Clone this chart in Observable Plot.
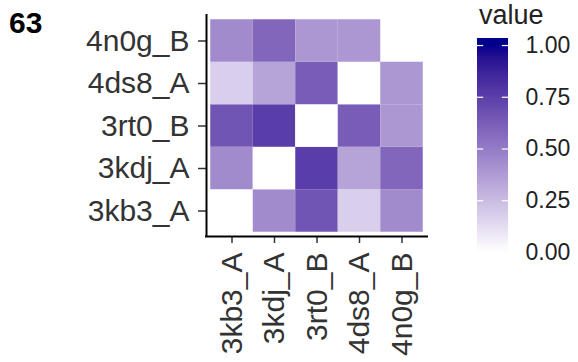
<!DOCTYPE html>
<html>
<head>
<meta charset="utf-8">
<script src="https://cdn.jsdelivr.net/npm/d3@7"></script>
<script src="https://cdn.jsdelivr.net/npm/@observablehq/plot@0.6"></script>
<style>
  html, body { margin: 0; padding: 0; background: #fff; }
  #chart { position: relative; width: 578px; height: 362px; overflow: hidden; font-family: "Liberation Sans", Arial, Helvetica, sans-serif; }
  #chart svg { position: absolute; left: 0; top: 0; }
  .tag { position: absolute; left: 9px; top: 8px; font-size: 30px; line-height: 30px; font-weight: bold; color: #000; }
  .ltitle { position: absolute; left: 479px; top: 2.4px; font-size: 27px; line-height: 27px; color: #222; }
</style>
</head>
<body>
<div id="chart">
  <div class="tag">63</div>
  <div class="ltitle">value</div>
</div>
<script>
// Categories (bottom-to-top for y, left-to-right for x)
const rowLabels = ["3kb3_A", "3kdj_A", "3rt0_B", "4ds8_A", "4n0g_B"];
const colLabels = ["3kb3_A", "3kdj_A", "3rt0_B", "4ds8_A", "4n0g_B"];

// Values per row, one entry per column (null = no tile)
const row_3kb3_A = [0.00, 0.44, 0.66, 0.18, 0.44];
const row_3kdj_A = [0.44, 0.00, 0.76, 0.345, 0.59];
const row_3rt0_B = [0.66, 0.76, 0.00, 0.63, 0.39];
const row_4ds8_A = [0.18, 0.345, 0.63, 0.00, 0.39];
const row_4n0g_B = [0.44, 0.59, 0.39, 0.39, null];
const rowValues = [row_3kb3_A, row_3kdj_A, row_3rt0_B, row_4ds8_A, row_4n0g_B];

// Legend tick labels
const legendBreaks = [0, 0.25, 0.5, 0.75, 1];

const cells = [];
rowValues.forEach((vals, ri) => {
  vals.forEach((v, ci) => {
    if (v != null) cells.push({row: rowLabels[ri], col: colLabels[ci], ri: ri + 1, ci: ci + 1, value: v});
  });
});

const xDomain = [0.4, 5.6];
const yDomain = [0.4, 5.6];
const colorScale = {type: "linear", domain: [0, 1], range: ["white", "darkblue"], interpolate: "lab"};
const font = '"Liberation Sans", Arial, Helvetica, sans-serif';

const main = Plot.plot({
  width: 578,
  height: 362,
  marginLeft: 206,
  marginRight: 151,
  marginTop: 15,
  marginBottom: 126,
  style: {background: "transparent", fontFamily: font, overflow: "visible"},
  x: {domain: xDomain, axis: null},
  y: {domain: yDomain, axis: null},
  color: colorScale,
  marks: [
    Plot.rect(cells, {
      x1: d => d.ci - 0.5, x2: d => d.ci + 0.5,
      y1: d => d.ri - 0.5, y2: d => d.ri + 0.5,
      fill: "value"
    }),
    Plot.axisX(colLabels.map((c, i) => i + 1), {
      tickFormat: i => colLabels[i - 1],
      tickRotate: -90, tickSize: 7, tickPadding: 9,
      fontSize: 30, stroke: "#333", fill: "#333", strokeWidth: 1.5, label: null
    }),
    Plot.axisY(rowLabels.map((r, i) => i + 1), {
      tickFormat: i => rowLabels[i - 1],
      tickSize: 8, tickPadding: 9,
      fontSize: 30, stroke: "#333", fill: "#333", strokeWidth: 1.5, label: null
    }),
    Plot.ruleX([xDomain[0]], {stroke: "black", strokeWidth: 2, strokeLinecap: "square"}),
    Plot.ruleY([yDomain[0]], {stroke: "black", strokeWidth: 2, strokeLinecap: "square"})
  ]
});

// Colour bar legend
const nBins = 150;
const barLo = -0.034, barHi = 1.034;
const step = (barHi - barLo) / nBins;
const slices = d3.range(nBins).map(i => {
  const a = barLo + step * i;
  const b = Math.min(barHi, a + step * 1.8);
  return {a, b, m: a + step / 2};
});

const legend = Plot.plot({
  width: 578,
  height: 362,
  marginLeft: 477,
  marginRight: 70,
  marginTop: 38,
  marginBottom: 103,
  style: {background: "transparent", fontFamily: font, overflow: "visible"},
  x: {domain: [0, 1], axis: null},
  y: {domain: [barLo, barHi], axis: null},
  color: {...colorScale, clamp: true},
  marks: [
    Plot.rect(slices, {x1: () => 0, x2: () => 1, y1: "a", y2: "b", fill: "m"}),
    Plot.ruleY(legendBreaks, {x1: () => 0, x2: () => 0.2, stroke: "white", strokeWidth: 1.2}),
    Plot.ruleY(legendBreaks, {x1: () => 0.8, x2: () => 1, stroke: "white", strokeWidth: 1.2}),
    Plot.axisY(legendBreaks, {anchor: "right", tickSize: 0, tickPadding: 17, tickFormat: d3.format(".2f"), fontSize: 23, fill: "#222", label: null})
  ]
});

const chart = document.getElementById("chart");
chart.insertBefore(main, chart.firstChild);
chart.insertBefore(legend, chart.firstChild.nextSibling);
</script>
</body>
</html>
